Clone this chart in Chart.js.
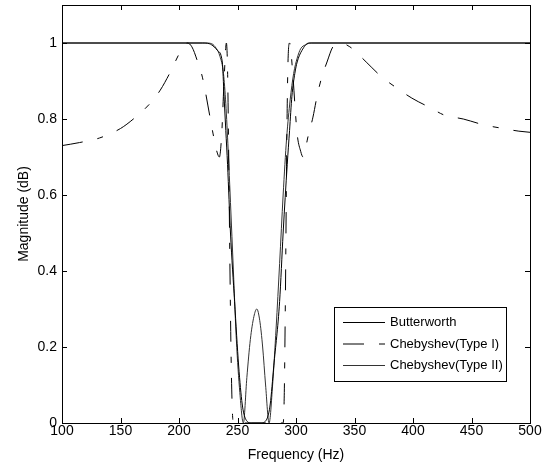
<!DOCTYPE html>
<html>
<head>
<meta charset="utf-8">
<script src="https://cdn.jsdelivr.net/npm/chart.js@4/dist/chart.umd.min.js"></script>
<style>
  html, body { margin: 0; padding: 0; background: #fff; }
  #wrap { width: 549px; height: 470px; }
</style>
</head>
<body>
<div id="wrap"><canvas id="chart" width="549" height="470"></canvas></div>
<script>
// frequency (Hz) / magnitude, one pair of arrays per filter
const bwFreq = [100, 220, 226, 230, 233, 237, 238.5, 240, 241.5, 244, 247.5, 251, 254, 257, 262, 270, 275, 278, 281, 286, 289, 292.5, 294.5, 296.5, 299, 301, 305, 311, 500];
const bwMag  = [1, 1, 0.998, 0.99, 0.98, 0.95, 0.86, 0.77, 0.68, 0.5, 0.32, 0.15, 0.05, 0.01, 0, 0, 0.01, 0.05, 0.15, 0.32, 0.5, 0.68, 0.77, 0.86, 0.92, 0.95, 0.98, 1, 1];

const c1Freq = [100, 115, 132, 150, 161, 175, 184, 192, 201, 207, 211, 216, 220, 226.5, 229, 232.5, 234.5, 236.5, 238.5, 240.5, 241.5, 242.5, 243.5, 244.5, 245.5, 246.5, 289, 290, 291, 292, 293, 294.5, 297, 299, 301, 304, 306, 308, 310, 314.5, 318, 322, 326.5, 331.5, 334, 340, 346, 350, 360, 373.5, 384.5, 399, 414.5, 427, 443, 460, 477, 490.5, 500];
const c1Mag  = [0.73, 0.738, 0.75, 0.775, 0.80, 0.84, 0.876, 0.92, 0.976, 1.0, 0.99, 0.95, 0.91, 0.805, 0.763, 0.713, 0.70, 0.76, 0.9, 1.0, 0.93, 0.7, 0.42, 0.18, 0.04, 0, 0, 0.08, 0.35, 0.7, 0.93, 1.0, 0.93, 0.84, 0.76, 0.715, 0.70, 0.72, 0.75, 0.805, 0.86, 0.91, 0.95, 0.99, 0.995, 0.998, 0.99, 0.98, 0.95, 0.91, 0.885, 0.855, 0.83, 0.81, 0.80, 0.785, 0.775, 0.768, 0.765];

const c2Freq = [100, 223, 228, 232, 235, 238, 240, 242, 244, 246.5, 249, 252, 255, 258, 261, 264, 266.5, 269, 271.5, 274, 277, 280, 283, 286, 289, 292, 295, 298, 301, 304, 308, 313, 500];
const c2Mag  = [1, 1, 0.998, 0.985, 0.965, 0.92, 0.84, 0.72, 0.58, 0.4, 0.22, 0.08, 0, 0.12, 0.22, 0.28, 0.30, 0.27, 0.2, 0.1, 0, 0.1, 0.25, 0.42, 0.6, 0.75, 0.85, 0.92, 0.96, 0.985, 0.995, 1, 1];

const seriesNames = ['Butterworth', 'Chebyshev(Type I)', 'Chebyshev(Type II)'];
const xTicks = [100, 150, 200, 250, 300, 350, 400, 450, 500];
const yTicks = [0, 0.2, 0.4, 0.6, 0.8, 1];

const FONT = "'Liberation Sans', Arial, sans-serif";

function pts(xs, ys) {
    return xs.map((x, i) => ({ x: x, y: ys[i] }));
}

// no extra room for half-labels, the layout padding decides the plot box
function noPad(s) {
    s.paddingTop = 0; s.paddingBottom = 0;
    s.paddingLeft = 0; s.paddingRight = 0;
}

// ticks pointing inwards on all four sides + frame + legend box
const matlabAxes = {
    id: 'matlabAxes',
    afterDatasetsDraw(chart) {
        const ctx = chart.ctx;
        const a = chart.chartArea;
        const xs = chart.scales.x, ys = chart.scales.y;
        const len = 5;
        ctx.save();
        ctx.strokeStyle = '#000';
        ctx.lineWidth = 1;
        ctx.beginPath();
        xTicks.forEach(v => {
            const px = Math.round(xs.getPixelForValue(v)) + 0.5;
            ctx.moveTo(px, a.bottom); ctx.lineTo(px, a.bottom - len);
            ctx.moveTo(px, a.top); ctx.lineTo(px, a.top + len);
        });
        yTicks.forEach(v => {
            const py = Math.round(ys.getPixelForValue(v)) + 0.5;
            ctx.moveTo(a.left, py); ctx.lineTo(a.left + len, py);
            ctx.moveTo(a.right, py); ctx.lineTo(a.right - len, py);
        });
        ctx.stroke();
        ctx.strokeRect(Math.round(a.left) + 0.5, Math.round(a.top) + 0.5,
                       Math.round(a.right - a.left), Math.round(a.bottom - a.top));

        // legend
        const bx = 334.5, by = 307.5, bw = 172, bh = 74;
        ctx.fillStyle = '#fff';
        ctx.fillRect(bx, by, bw, bh);
        ctx.strokeStyle = '#000';
        ctx.strokeRect(bx, by, bw, bh);
        ctx.font = '13px ' + FONT;
        ctx.textBaseline = 'middle';
        ctx.textAlign = 'left';
        chart.data.datasets.forEach((ds, i) => {
            const y = 322.5 + i * 21.5;
            ctx.save();
            ctx.strokeStyle = ds.borderColor;
            ctx.lineWidth = ds.borderWidth;
            ctx.setLineDash(ds.borderDash || []);
            ctx.beginPath();
            ctx.moveTo(343, y); ctx.lineTo(385, y);
            ctx.stroke();
            ctx.restore();
            ctx.fillStyle = '#000';
            ctx.fillText(ds.label, 390, y);
        });
        ctx.restore();
    }
};

new Chart(document.getElementById('chart'), {
    type: 'line',
    data: {
        datasets: [
            { label: seriesNames[0], data: pts(bwFreq, bwMag), borderColor: '#000', borderWidth: 1 },
            { label: seriesNames[1], data: pts(c1Freq, c1Mag), borderColor: '#000', borderWidth: 1, borderDash: [21, 15, 6, 15] },
            { label: seriesNames[2], data: pts(c2Freq, c2Mag), borderColor: '#333', borderWidth: 1 }
        ]
    },
    options: {
        responsive: false,
        animation: false,
        parsing: false,
        layout: { padding: { left: 0, right: 19, top: 5, bottom: 0 } },
        elements: {
            point: { radius: 0 },
            line: { cubicInterpolationMode: 'monotone', fill: false }
        },
        plugins: { legend: { display: false }, tooltip: { enabled: false } },
        scales: {
            x: {
                type: 'linear',
                min: 100, max: 500,
                afterBuildTicks: s => { s.ticks = xTicks.map(v => ({ value: v })); },
                afterFit: s => { s.height = 47; noPad(s); },
                grid: { display: false, drawTicks: false },
                border: { display: false },
                ticks: { color: '#000', font: { family: FONT, size: 14 }, padding: 0, maxRotation: 0 },
                title: { display: true, text: 'Frequency (Hz)', color: '#000', font: { family: FONT, size: 14 }, padding: { top: 0, bottom: 6 } }
            },
            y: {
                type: 'linear',
                min: 0, max: 1.1,
                afterBuildTicks: s => { s.ticks = yTicks.map(v => ({ value: v })); },
                afterFit: s => { s.width = 62; noPad(s); },
                grid: { display: false, drawTicks: false },
                border: { display: false },
                ticks: { color: '#000', font: { family: FONT, size: 14 }, padding: 5, callback: v => String(v) },
                title: { display: true, text: 'Magnitude (dB)', color: '#000', font: { family: FONT, size: 14 }, padding: { top: 16, bottom: 0 } }
            }
        }
    },
    plugins: [matlabAxes]
});
</script>
</body>
</html>
